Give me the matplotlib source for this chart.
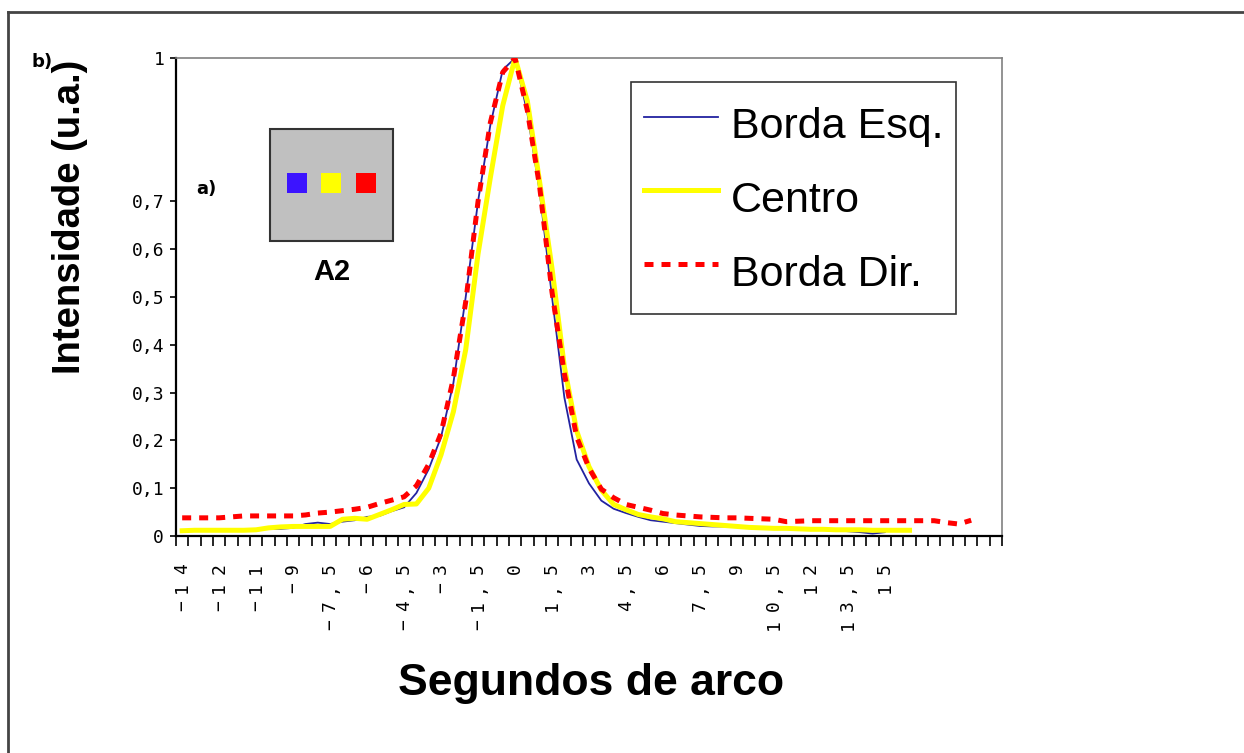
import numpy as np
import matplotlib.pyplot as plt
from matplotlib.patches import Rectangle
from matplotlib.lines import Line2D
from matplotlib.transforms import offset_copy

# perfis normalizados, um valor por categoria do eixo x
borda_esq = [0.012, 0.012, 0.012, 0.013, 0.013, 0.014, 0.014, 0.015, 0.015, 0.017,
             0.025, 0.028, 0.025, 0.030, 0.033, 0.040, 0.042, 0.052, 0.060, 0.090,
             0.140, 0.207, 0.320, 0.500, 0.700, 0.860, 0.975, 1.000, 0.885, 0.720,
             0.500, 0.290, 0.160, 0.110, 0.074, 0.057, 0.048, 0.040, 0.033, 0.030,
             0.027, 0.024, 0.021, 0.020, 0.020, 0.019, 0.018, 0.017, 0.017, 0.016,
             0.015, 0.014, 0.013, 0.012, 0.010, 0.008, 0.005, 0.008]
centro = [0.011, 0.012, 0.012, 0.012, 0.012, 0.012, 0.013, 0.017, 0.019, 0.020,
          0.020, 0.020, 0.020, 0.035, 0.037, 0.035, 0.045, 0.055, 0.066, 0.067,
          0.100, 0.170, 0.260, 0.390, 0.590, 0.750, 0.900, 1.000, 0.910, 0.740,
          0.560, 0.354, 0.220, 0.145, 0.096, 0.066, 0.055, 0.045, 0.040, 0.036,
          0.030, 0.028, 0.026, 0.024, 0.022, 0.020, 0.018, 0.017, 0.016, 0.016,
          0.015, 0.014, 0.014, 0.013, 0.013, 0.013, 0.012, 0.012, 0.012, 0.012]
borda_dir = [0.038, 0.038, 0.038, 0.038, 0.040, 0.042, 0.042, 0.042, 0.042, 0.042,
             0.044, 0.048, 0.050, 0.053, 0.056, 0.060, 0.068, 0.075, 0.082, 0.105,
             0.150, 0.215, 0.330, 0.490, 0.700, 0.865, 0.970, 1.000, 0.890, 0.730,
             0.510, 0.340, 0.207, 0.142, 0.098, 0.080, 0.066, 0.060, 0.054, 0.047,
             0.044, 0.042, 0.040, 0.039, 0.038, 0.038, 0.037, 0.036, 0.035, 0.030,
             0.031, 0.032, 0.032, 0.032, 0.032, 0.032, 0.032, 0.032, 0.032, 0.032,
             0.032, 0.032, 0.028, 0.025, 0.033]

x_labels = ['−14', '−12', '−11', '−9', '−7,5', '−6', '−4,5', '−3', '−1,5', '0',
            '1,5', '3', '4,5', '6', '7,5', '9', '10,5', '12', '13,5', '15']
label_step = 3
n_cat = 67

y_ticks = [0, 0.1, 0.2, 0.3, 0.4, 0.5, 0.6, 0.7, 1]
y_labels = ['0', '0,1', '0,2', '0,3', '0,4', '0,5', '0,6', '0,7', '1']

W, H = 1244, 753
def fx(px):
    return px / W
def fy(py):
    return 1 - py / H

mono = 'DejaVu Sans Mono'
arial = 'Liberation Sans'

fig = plt.figure(figsize=(W / 100, H / 100), dpi=100)
ax = fig.add_axes([fx(176), fy(536), fx(1002) - fx(176), fy(58) - fy(536)])

ax.plot(range(len(borda_esq)), borda_esq, color='#2222a0', lw=1.3, label='Borda Esq.', zorder=2)
ax.plot(range(len(centro)), centro, color='#ffff00', lw=3.6, label='Centro', zorder=3)
ax.plot(range(len(borda_dir)), borda_dir, color='#ff0000', lw=3.6, ls=(0, (1.8, 1.6)),
        label='Borda Dir.', zorder=4)

ax.set_xlim(-0.5, n_cat - 0.5)
ax.set_ylim(0, 1)

ax.set_xticks(np.arange(-0.5, n_cat, 1))
ax.set_xticklabels([])
ax.tick_params(axis='x', direction='out', length=7, width=1.2, color='black')

# rotulos do eixo x, um caractere por vez (espacamento largo como no original)
for k, lab in enumerate(x_labels):
    xi = k * label_step
    for j, ch in enumerate(reversed(lab)):
        tr = offset_copy(ax.get_xaxis_transform(), fig=fig, x=0, y=-(33 + 18.5 * j), units='dots')
        ax.text(xi, 0, ch, transform=tr, rotation=90, ha='center', va='center',
                fontsize=13, family=mono)

ax.set_yticks(y_ticks)
ax.set_yticklabels(y_labels, family=mono, fontsize=13)
ax.tick_params(axis='y', direction='out', length=4.5, width=1.2, pad=4)

for s in ['left', 'bottom']:
    ax.spines[s].set_color('black')
    ax.spines[s].set_linewidth(1.6)
for s in ['top', 'right']:
    ax.spines[s].set_color('#808080')
    ax.spines[s].set_linewidth(1.2)

leg = ax.legend(loc='upper left', bbox_to_anchor=(fx(631), fy(82)), bbox_transform=fig.transFigure,
                borderaxespad=0, fancybox=False, prop={'family': arial, 'size': 31},
                handlelength=1.72, handleheight=1.72, handletextpad=0.3, borderpad=0.3,
                labelspacing=0.35)
leg.get_frame().set_edgecolor('black')
leg.get_frame().set_linewidth(1.2)

fig.text(fx(70), fy(217), 'Intensidade (u.a.)', rotation=90, ha='center', va='center',
         fontsize=27.5, fontweight='bold', family=arial)
fig.text(fx(591), fy(683), 'Segundos de arco', ha='center', va='center',
         fontsize=32, fontweight='bold', family=arial)

# pequeno esquema da fenda A2
fig.add_artist(Rectangle((fx(270), fy(241)), fx(393) - fx(270), fy(129) - fy(241),
                         transform=fig.transFigure, facecolor='#c0c0c0', edgecolor='#333333', lw=1.5))
for x0, c in [(287, '#3c14ff'), (321, '#ffff00'), (356, '#ff0000')]:
    fig.add_artist(Rectangle((fx(x0), fy(193)), fx(20), 20 / H, transform=fig.transFigure,
                             facecolor=c, edgecolor='none'))
fig.text(fx(332), fy(272), 'A2', ha='center', va='center', fontsize=21, fontweight='bold', family=arial)
fig.text(fx(206), fy(189), 'a)', ha='center', va='center', fontsize=13, fontweight='bold')
fig.text(fx(42), fy(62), 'b)', ha='center', va='center', fontsize=13, fontweight='bold')

fig.add_artist(Line2D([fx(8), 1], [fy(12), fy(12)], transform=fig.transFigure, color='#444444', lw=2))
fig.add_artist(Line2D([fx(8), fx(8)], [fy(12), 0], transform=fig.transFigure, color='#444444', lw=2))

fig.savefig('out.png', dpi=100)
